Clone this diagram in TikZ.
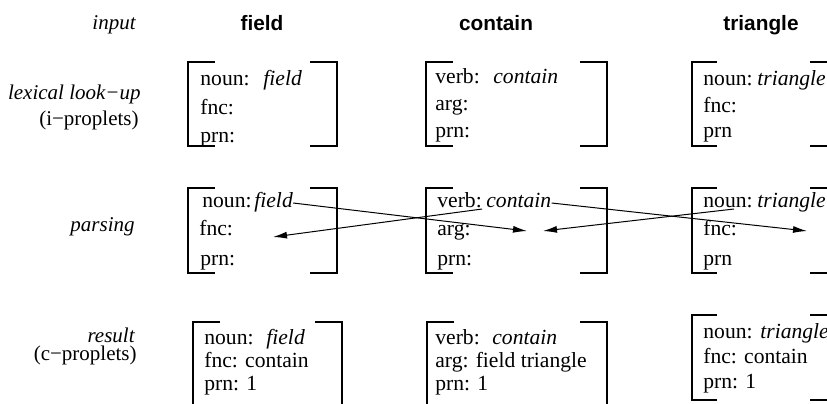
\documentclass[tikz,border=0pt]{standalone}
\usepackage{fontspec}
\setmainfont{Liberation Serif}
\newfontfamily\headfont{Liberation Sans}
\usetikzlibrary{arrows.meta}

\tikzset{
  lbl/.style={anchor=base east, inner sep=0pt, font=\fontsize{10.5}{12}\selectfont},
  word/.style={anchor=base, inner sep=0pt, font=\fontsize{10.4}{12}\selectfont\headfont\bfseries},
  attr/.style={anchor=base west, inner sep=0pt, font=\fontsize{10.8}{13}\selectfont},
  val/.style={anchor=base west, inner sep=0pt, font=\fontsize{10.8}{13}\selectfont\itshape},
  bracket/.style={line width=0.6pt},
  link/.style={-{Latex[length=7pt,width=3.5pt]}, line width=0.5pt}
}

% proplet frame: left, top, right, bottom, stub length
\newcommand{\propbox}[5]{%
  \draw[bracket] (#1+#5,#2) -| (#1,#4) -- (#1+#5,#4);
  \draw[bracket] (#3-#5,#2) -| (#3,#4) -- (#3-#5,#4);}

\begin{document}
\begin{tikzpicture}[x=0.5pt, y=-0.5pt]
  \useasboundingbox (0,0) rectangle (827,403);
  \clip (0,0) rectangle (827,403);

  % row labels
  \node[lbl, font=\fontsize{10.5}{12}\selectfont\itshape] (input) at (136,29) {input};
  \node[lbl, font=\fontsize{10.5}{12}\selectfont\itshape] (lookup) at (141,99) {lexical look−up};
  \node[lbl] (iprop) at (139,125) {(i−proplets)};
  \node[lbl, font=\fontsize{10.5}{12}\selectfont\itshape] (parsing) at (135,231) {parsing};
  \node[lbl, font=\fontsize{10.5}{12}\selectfont\itshape] (result) at (135,342) {result};
  \node[lbl] (cprop) at (137,360) {(c−proplets)};

  % input words
  \node[word] (wfield) at (262,30) {field};
  \node[word] (wcontain) at (496,30) {contain};
  \node[word] (wtriangle) at (761,30) {triangle};

  % lexical look-up
  \propbox{188}{62}{337}{146}{27}
  \node[attr] (lnounF) at (200,85) {noun:};
  \node[val] (lfield) at (263,85) {field};
  \node[attr] (lfncF) at (200,114) {fnc:};
  \node[attr] (lprnF) at (200,142) {prn:};

  \propbox{426}{62}{607}{146}{27}
  \node[attr] (lverbC) at (435,83) {verb:};
  \node[val] (lcontain) at (493,83) {contain};
  \node[attr] (largC) at (435,110) {arg:};
  \node[attr] (lprnC) at (435,137) {prn:};

  \propbox{692}{62}{835}{146}{25}
  \node[attr] (lnounT) at (703,85) {noun:};
  \node[val] (ltriangle) at (757,85) {triangle};
  \node[attr] (lfncT) at (703,112) {fnc:};
  \node[attr] (lprnT) at (703,137) {prn};

  % parsing
  \propbox{188}{188}{337}{273}{27}
  \node[attr] (pnounF) at (202,207) {noun:};
  \node[val] (pfield) at (254,207) {field};
  \node[attr] (pfncF) at (199,235) {fnc:};
  \node[attr] (pprnF) at (200,265) {prn:};

  \propbox{426}{188}{607}{273}{27}
  \node[attr] (pverbC) at (437,207) {verb:};
  \node[val] (pcontain) at (486,207) {contain};
  \node[attr] (pargC) at (437,235) {arg:};
  \node[attr] (pprnC) at (437,265) {prn:};

  \propbox{692}{188}{835}{273}{25}
  \node[attr] (pnounT) at (703,207) {noun:};
  \node[val] (ptriangle) at (757,207) {triangle};
  \node[attr] (pfncT) at (703,235) {fnc:};
  \node[attr] (pprnT) at (703,265) {prn};

  \coordinate (fncF) at (273,237);
  \coordinate (argC1) at (527,231);
  \coordinate (argC2) at (543,231);
  \coordinate (fncT) at (807,231);
  \draw[link] ([yshift=2pt]pfield.base east) -- (argC1);
  \draw[link] ([yshift=-1pt]pverbC.base east) -- (fncF);
  \draw[link] ([yshift=2pt]pcontain.base east) -- (fncT);
  \draw[link] ([xshift=3pt,yshift=-1pt]pnounT.base) -- (argC2);

  % result
  \propbox{193}{322}{342}{420}{27}
  \node[attr] (rnounF) at (204,344) {noun:};
  \node[val] (rfield) at (266,344) {field};
  \node[attr] (rfncF) at (204,367) {fnc: contain};
  \node[attr] (rprnF) at (204,390) {prn: 1};

  \propbox{427}{322}{607}{420}{27}
  \node[attr] (rverbC) at (435,344) {verb:};
  \node[val] (rcontain) at (492,344) {contain};
  \node[attr] (rargC) at (435,367) {arg: field triangle};
  \node[attr] (rprnC) at (435,390) {prn: 1};

  \propbox{692}{315}{835}{400}{25}
  \node[attr] (rnounT) at (703,338) {noun:};
  \node[val] (rtriangle) at (760,338) {triangle};
  \node[attr] (rfncT) at (703,363) {fnc: contain};
  \node[attr] (rprnT) at (703,388) {prn: 1};
\end{tikzpicture}
\end{document}
